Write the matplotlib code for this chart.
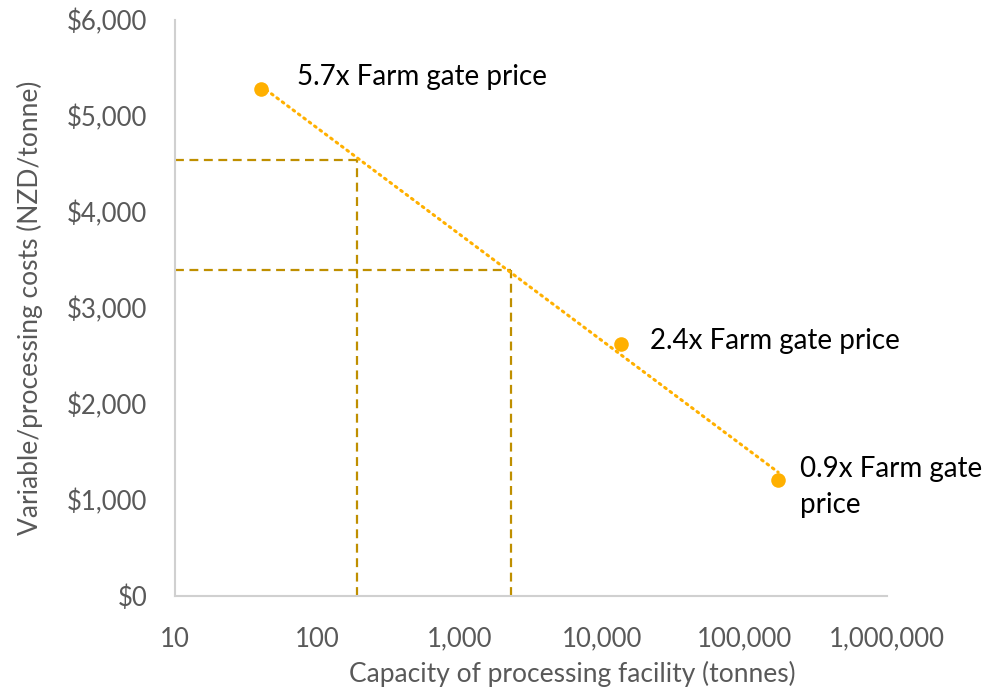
import numpy as np
import matplotlib.pyplot as plt
from matplotlib.ticker import FuncFormatter, FixedLocator

# capacity (tonnes) vs variable/processing cost (NZD/tonne)
capacity = [40, 13600, 172000]
cost = [5280, 2625, 1210]
labels = ['5.7x Farm gate price', '2.4x Farm gate price', '0.9x Farm gate\nprice']

# reference lines
ref_capacity = [190, 2270]
ref_cost = [4545, 3395]

x_ticks = [10, 100, 1000, 10000, 100000, 1000000]
y_ticks = [0, 1000, 2000, 3000, 4000, 5000, 6000]

point_col = '#FFB000'
ref_col = '#BF8F00'
grey = '#595959'

plt.rcParams['font.family'] = ['Lato', 'DejaVu Sans']

fig = plt.figure(figsize=(9.87, 6.9), dpi=100)
ax = fig.add_axes([0.1773, 0.1362, 0.7214, 0.8348])

# log trendline (like excel)
coef = np.polyfit(np.log10(capacity), cost, 1)
tx = np.logspace(np.log10(capacity[0]), np.log10(capacity[-1]), 100)
ax.plot(tx, np.polyval(coef, np.log10(tx)), color=point_col, lw=2.2,
        linestyle=(0, (0.6, 1.6)), dash_capstyle='round', zorder=2)

for xc, yc in zip(ref_capacity, ref_cost):
    ax.plot([10, xc], [yc, yc], color=ref_col, lw=1.6, linestyle=(0, (4, 2.5)), zorder=1)
    ax.plot([xc, xc], [0, yc], color=ref_col, lw=1.6, linestyle=(0, (4, 2.5)), zorder=1)

ax.scatter(capacity, cost, s=110, color=point_col, zorder=3, linewidths=0)

# label offsets in points
offsets = [(26, 9), (21, 2), (16, 17)]
for xc, yc, lab, off in zip(capacity, cost, labels, offsets):
    ax.annotate(lab, (xc, yc), xytext=off, textcoords='offset points',
                fontsize=20, color='black', va='center' if '\n' not in lab else 'top',
                ha='left', linespacing=1.45)

ax.set_xscale('log')
ax.set_xlim(10, 1000000)
ax.set_ylim(0, 6000)
ax.xaxis.set_major_locator(FixedLocator(x_ticks))
ax.xaxis.set_minor_locator(FixedLocator([]))
ax.yaxis.set_major_locator(FixedLocator(y_ticks))
ax.xaxis.set_major_formatter(FuncFormatter(lambda v, p: f'{v:,.0f}'))
ax.yaxis.set_major_formatter(FuncFormatter(lambda v, p: f'${v:,.0f}'))
ax.tick_params(length=0, labelsize=18.5, colors=grey)
ax.tick_params(axis='x', pad=22)
ax.tick_params(axis='y', pad=20)

for s in ['top', 'right']:
    ax.spines[s].set_visible(False)
for s in ['left', 'bottom']:
    ax.spines[s].set_color('#D0D0D0')
    ax.spines[s].set_linewidth(1.5)

ax.set_xlabel('Capacity of processing facility (tonnes)', fontsize=19, color=grey)
ax.xaxis.set_label_coords(0.558, -0.112)
ax.set_ylabel('Variable/processing costs (NZD/tonne)', fontsize=19, color=grey, labelpad=17)

fig.savefig('out.png', dpi=100)
